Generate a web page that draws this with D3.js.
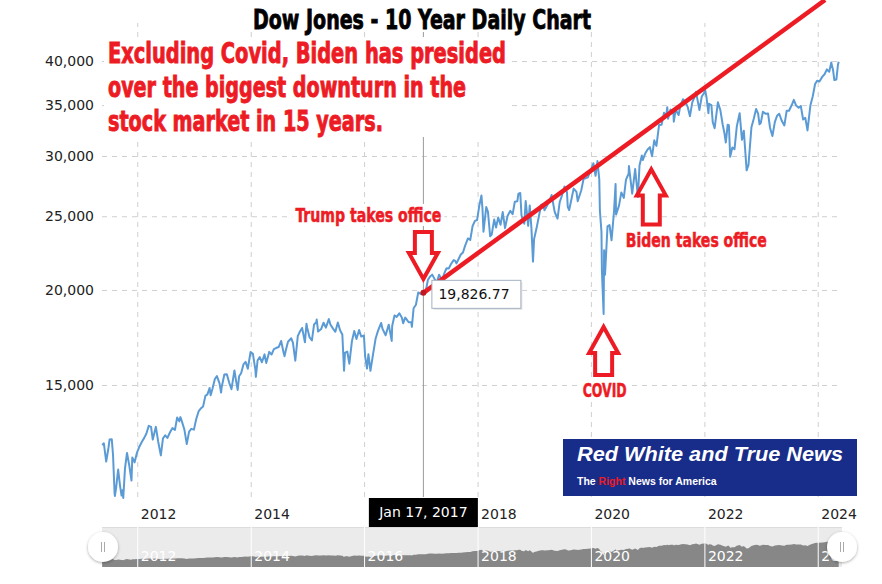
<!DOCTYPE html>
<html>
<head>
<meta charset="utf-8">
<script src="https://cdn.jsdelivr.net/npm/d3@7"></script>
<style>
  body { margin: 0; background: #fff; }
  svg { display: block; font-family: "DejaVu Sans", Verdana, sans-serif; }
  .heavy { font-family: "Liberation Sans Narrow", "DejaVu Sans Condensed", "Roboto", sans-serif; font-weight: bold; }
</style>
</head>
<body>
<svg id="chart" width="882" height="584"></svg>
<script>
// Dow Jones closes (roughly two per month plus turning points)
const dowCloses = [
  ["2011-05-20", 12512], ["2011-05-31", 12570], ["2011-06-15", 11897], ["2011-06-30", 12414],
  ["2011-07-07", 12719], ["2011-07-21", 12724], ["2011-07-29", 12143], ["2011-08-08", 10810],
  ["2011-08-10", 10719], ["2011-08-18", 10990], ["2011-08-31", 11614], ["2011-09-12", 11061],
  ["2011-09-22", 10733], ["2011-09-30", 10913], ["2011-10-03", 10655], ["2011-10-14", 11644],
  ["2011-10-27", 12209], ["2011-11-10", 11778], ["2011-11-25", 11231], ["2011-11-30", 12046],
  ["2011-12-15", 11868], ["2011-12-30", 12218],
  ["2012-01-13", 12422], ["2012-01-31", 12633], ["2012-02-15", 12781], ["2012-02-29", 12952],
  ["2012-03-15", 13253], ["2012-03-30", 13212], ["2012-04-10", 12716], ["2012-04-30", 13214],
  ["2012-05-15", 12633], ["2012-06-01", 12119], ["2012-06-15", 12767], ["2012-06-29", 12880],
  ["2012-07-13", 12777], ["2012-07-31", 13009], ["2012-08-15", 13165], ["2012-08-31", 13091],
  ["2012-09-14", 13593], ["2012-09-28", 13437], ["2012-10-05", 13610], ["2012-10-15", 13424],
  ["2012-10-31", 13096], ["2012-11-15", 12543], ["2012-11-30", 13026], ["2012-12-14", 13135],
  ["2012-12-31", 13104],
  ["2013-01-15", 13534], ["2013-01-31", 13861], ["2013-02-15", 13981], ["2013-02-28", 14054],
  ["2013-03-15", 14514], ["2013-03-28", 14579], ["2013-04-11", 14865], ["2013-04-18", 14537],
  ["2013-04-30", 14840], ["2013-05-15", 15275], ["2013-05-28", 15409], ["2013-06-14", 15070],
  ["2013-06-24", 14660], ["2013-06-28", 14910], ["2013-07-15", 15484], ["2013-07-31", 15500],
  ["2013-08-15", 15112], ["2013-08-30", 14810], ["2013-09-18", 15676], ["2013-09-30", 15130],
  ["2013-10-09", 14776], ["2013-10-18", 15400], ["2013-10-31", 15546], ["2013-11-15", 15962],
  ["2013-11-29", 16086], ["2013-12-13", 15755], ["2013-12-31", 16577],
  ["2014-01-15", 16481], ["2014-01-31", 15699], ["2014-02-03", 15373], ["2014-02-14", 16154],
  ["2014-02-28", 16322], ["2014-03-14", 16066], ["2014-03-31", 16458], ["2014-04-11", 16027],
  ["2014-04-30", 16581], ["2014-05-15", 16447], ["2014-05-30", 16717], ["2014-06-13", 16776],
  ["2014-06-30", 16827], ["2014-07-16", 17138], ["2014-07-31", 16563], ["2014-08-07", 16368],
  ["2014-08-15", 16662], ["2014-08-29", 17098], ["2014-09-19", 17280], ["2014-09-30", 17043],
  ["2014-10-15", 16142], ["2014-10-31", 17391], ["2014-11-14", 17634], ["2014-11-28", 17828],
  ["2014-12-16", 17068], ["2014-12-26", 18053], ["2014-12-31", 17823],
  ["2015-01-15", 17320], ["2015-01-30", 17165], ["2015-02-13", 18019], ["2015-02-27", 18133],
  ["2015-03-02", 18288], ["2015-03-11", 17635], ["2015-03-31", 17776], ["2015-04-15", 18112],
  ["2015-04-30", 17841], ["2015-05-19", 18312], ["2015-05-29", 18011], ["2015-06-15", 17791],
  ["2015-06-30", 17620], ["2015-07-16", 18120], ["2015-07-31", 17690], ["2015-08-14", 17477],
  ["2015-08-25", 15666], ["2015-08-31", 16528], ["2015-09-15", 16599], ["2015-09-28", 16001],
  ["2015-10-15", 17141], ["2015-10-30", 17664], ["2015-11-13", 17245], ["2015-11-30", 17720],
  ["2015-12-14", 17368], ["2015-12-31", 17425],
  ["2016-01-08", 16346], ["2016-01-20", 15766], ["2016-01-29", 16466], ["2016-02-11", 15660],
  ["2016-02-29", 16517], ["2016-03-15", 17251], ["2016-03-31", 17685], ["2016-04-20", 18096],
  ["2016-04-29", 17774], ["2016-05-19", 17435], ["2016-05-31", 17787], ["2016-06-08", 18005],
  ["2016-06-27", 17140], ["2016-06-30", 17930], ["2016-07-15", 18516], ["2016-07-29", 18432],
  ["2016-08-15", 18636], ["2016-08-31", 18401], ["2016-09-09", 18085], ["2016-09-22", 18392],
  ["2016-09-30", 18308], ["2016-10-14", 18138], ["2016-10-31", 18142], ["2016-11-04", 17888],
  ["2016-11-15", 18923], ["2016-11-30", 19124], ["2016-12-15", 19852], ["2016-12-30", 19763],
  ["2017-01-17", 19826.77], ["2017-01-31", 19864], ["2017-02-15", 20611], ["2017-02-28", 20812],
  ["2017-03-15", 20950], ["2017-03-31", 20663], ["2017-04-13", 20453], ["2017-04-28", 20940],
  ["2017-05-17", 20606], ["2017-05-31", 21009], ["2017-06-15", 21359], ["2017-06-30", 21350],
  ["2017-07-14", 21637], ["2017-07-31", 21891], ["2017-08-10", 21844], ["2017-08-18", 21674],
  ["2017-08-31", 21948], ["2017-09-15", 22268], ["2017-09-29", 22405], ["2017-10-13", 22871],
  ["2017-10-31", 23377], ["2017-11-15", 23271], ["2017-11-30", 24272], ["2017-12-15", 24651],
  ["2017-12-29", 24719],
  ["2018-01-12", 25803], ["2018-01-26", 26616], ["2018-02-02", 25520], ["2018-02-08", 23860],
  ["2018-02-26", 25709], ["2018-03-09", 25335], ["2018-03-23", 23533], ["2018-04-02", 23644],
  ["2018-04-18", 24748], ["2018-04-30", 24163], ["2018-05-14", 24899], ["2018-05-29", 24361],
  ["2018-06-12", 25320], ["2018-06-27", 24117], ["2018-07-13", 25019], ["2018-07-31", 25415],
  ["2018-08-15", 25162], ["2018-08-29", 26124], ["2018-09-14", 26154], ["2018-09-21", 26743],
  ["2018-10-03", 26828], ["2018-10-11", 25052], ["2018-10-24", 24583], ["2018-10-29", 24442],
  ["2018-11-07", 26180], ["2018-11-23", 24286], ["2018-12-03", 25826], ["2018-12-14", 24100],
  ["2018-12-24", 21792], ["2018-12-31", 23327],
  ["2019-01-15", 24065], ["2019-01-31", 24999], ["2019-02-15", 25883], ["2019-02-28", 25916],
  ["2019-03-08", 25450], ["2019-03-29", 25928], ["2019-04-15", 26384], ["2019-04-23", 26656],
  ["2019-05-13", 25324], ["2019-05-31", 24815], ["2019-06-14", 26089], ["2019-06-28", 26600],
  ["2019-07-15", 27359], ["2019-07-31", 26864], ["2019-08-05", 25717], ["2019-08-14", 25479],
  ["2019-08-30", 26403], ["2019-09-12", 27182], ["2019-09-30", 26917], ["2019-10-08", 26164],
  ["2019-10-31", 27046], ["2019-11-15", 28004], ["2019-11-29", 28051], ["2019-12-13", 28135],
  ["2019-12-27", 28645],
  ["2020-01-17", 29348], ["2020-01-31", 28256], ["2020-02-12", 29551], ["2020-02-24", 27960],
  ["2020-02-28", 25409], ["2020-03-09", 23851], ["2020-03-12", 21200], ["2020-03-16", 20188],
  ["2020-03-23", 18592], ["2020-03-26", 22552], ["2020-04-01", 20943], ["2020-04-17", 24242],
  ["2020-04-30", 24345], ["2020-05-13", 23247], ["2020-05-29", 25383], ["2020-06-08", 27572],
  ["2020-06-11", 25128], ["2020-06-30", 25813], ["2020-07-15", 26870], ["2020-07-31", 26428],
  ["2020-08-14", 27931], ["2020-08-31", 28430], ["2020-09-02", 29100], ["2020-09-23", 26763],
  ["2020-10-12", 28837], ["2020-10-30", 26502], ["2020-11-09", 29158], ["2020-11-24", 30046],
  ["2020-11-30", 29638], ["2020-12-15", 30199], ["2020-12-31", 30606],
  ["2021-01-15", 30814], ["2021-01-29", 29983], ["2021-02-12", 31458], ["2021-02-26", 30932],
  ["2021-03-15", 32953], ["2021-03-31", 32982], ["2021-04-16", 34200], ["2021-04-30", 33875],
  ["2021-05-07", 34778], ["2021-05-12", 33587], ["2021-05-28", 34529], ["2021-06-15", 34299],
  ["2021-06-18", 33290], ["2021-06-30", 34503], ["2021-07-19", 33962], ["2021-07-30", 34935],
  ["2021-08-16", 35625], ["2021-08-31", 35361], ["2021-09-15", 34814], ["2021-09-30", 33844],
  ["2021-10-15", 35295], ["2021-10-29", 35820], ["2021-11-08", 36432], ["2021-11-30", 34484],
  ["2021-12-15", 35927], ["2021-12-31", 36338],
  ["2022-01-04", 36799], ["2022-01-14", 35912], ["2022-01-27", 34160], ["2022-01-31", 35132],
  ["2022-02-15", 34989], ["2022-02-24", 33223], ["2022-03-08", 32632], ["2022-03-29", 35294],
  ["2022-04-14", 34451], ["2022-04-29", 32977], ["2022-05-09", 32245], ["2022-05-19", 31253],
  ["2022-05-31", 32990], ["2022-06-08", 32910], ["2022-06-16", 29927], ["2022-06-30", 30775],
  ["2022-07-14", 30630], ["2022-07-29", 32845], ["2022-08-16", 34152], ["2022-08-31", 31510],
  ["2022-09-12", 32381], ["2022-09-30", 28725], ["2022-10-12", 29210], ["2022-10-31", 32732],
  ["2022-11-15", 33592], ["2022-11-30", 34589], ["2022-12-13", 34108], ["2022-12-22", 33027],
  ["2022-12-30", 33147],
  ["2023-01-13", 34302], ["2023-01-31", 34086], ["2023-02-15", 34128], ["2023-02-28", 32656],
  ["2023-03-15", 31874], ["2023-03-31", 33274], ["2023-04-14", 33886], ["2023-04-28", 34098],
  ["2023-05-15", 33348], ["2023-05-31", 32908], ["2023-06-15", 34408], ["2023-06-30", 34407],
  ["2023-07-19", 35061], ["2023-07-31", 35560], ["2023-08-15", 34946], ["2023-08-31", 34721],
  ["2023-09-14", 34907], ["2023-09-29", 33507], ["2023-10-13", 33670], ["2023-10-27", 32417],
  ["2023-11-15", 34991], ["2023-11-30", 35950], ["2023-12-15", 37305], ["2023-12-29", 37689],
  ["2024-01-12", 37592], ["2024-01-31", 38150], ["2024-02-14", 38424], ["2024-02-29", 38996],
  ["2024-03-15", 38714], ["2024-03-28", 39807], ["2024-04-09", 38883], ["2024-04-17", 37753],
  ["2024-04-30", 37816], ["2024-05-10", 39512], ["2024-05-15", 39908]
];

const yTickValues = [15000, 20000, 25000, 30000, 35000, 40000];
const xTickYears = [2012, 2014, 2016, 2018, 2020, 2022, 2024];
const focusPoint = ["2017-01-17", 19826.77];
const trendPoints = [["2017-01-17", 19826.77], ["2024-02-17", 48115]];

const chartTitle = "Dow Jones - 10 Year Daily Chart";
const headlineLines = [
  "Excluding Covid, Biden has presided",
  "over the biggest downturn in the",
  "stock market in 15 years."
];
const callouts = [
  { text: "Trump takes office", date: "2017-01-17", value: 20680, dir: -1 },
  { text: "COVID", date: "2020-03-23", value: 17880, dir: 1 },
  { text: "Biden takes office", date: "2021-01-24", value: 28810, dir: 1 }
];
const logoTitle = "Red White and True News";
const logoTagline = ["The ", "Right", " News for America"];

// layout
const width = 882;
const height = 584;
const plot = { left: 102, right: 839, top: 23, bottom: 497 };
const nav = { top: 527, bottom: 567, left: 102, right: 842 };
const red = '#ed1c24';

const parse = d3.timeParse('%Y-%m-%d');
const data = dowCloses.map(([d, v]) => ({ date: parse(d), value: v }));

const svg = d3.select('#chart');

const x = d3
  .scaleTime()
  .domain([parse('2011-05-19'), parse('2024-05-17')])
  .range([plot.left, plot.right]);

const y = d3
  .scaleLog()
  .domain([10686, 44876])
  .range([plot.bottom, plot.top]);

const yearDates = xTickYears.map(yr => new Date(yr, 0, 1));

const fx = x(parse(focusPoint[0]));
const fy = y(focusPoint[1]);
const dateBoxWidth = 109;

// y grid + labels
svg
  .append('g')
  .attr('transform', `translate(${plot.left}, 0)`)
  .call(
    d3
      .axisLeft(y)
      .tickValues(yTickValues)
      .tickFormat(d3.format(','))
      .tickSize(-(plot.right - plot.left))
      .tickPadding(8)
  )
  .call(g => g.select('.domain').remove())
  .call(g =>
    g
      .selectAll('.tick line')
      .attr('stroke', '#cfcfcf')
      .attr('stroke-dasharray', '5,5')
  )
  .call(g =>
    g
      .selectAll('.tick text')
      .attr('fill', '#222')
      .style('font-size', '14px')
      .style('font-family', '"DejaVu Sans", Verdana, sans-serif')
  );

// x grid + labels (a label sitting under the cursor date box is hidden by it)
const boxLeft = fx - dateBoxWidth / 2;
const boxRight = fx + dateBoxWidth / 2;
svg
  .append('g')
  .attr('transform', `translate(0, ${plot.bottom})`)
  .call(
    d3
      .axisBottom(x)
      .tickValues(yearDates)
      .tickFormat(d3.timeFormat('%Y'))
      .tickSize(-(plot.bottom - plot.top))
  )
  .call(g => g.select('.domain').remove())
  .call(g =>
    g
      .selectAll('.tick line')
      .attr('stroke', '#cfcfcf')
      .attr('stroke-dasharray', '5,5')
  )
  .call(g =>
    g
      .selectAll('.tick text')
      .attr('fill', '#222')
      .attr('text-anchor', 'start')
      .attr('x', 3)
      .attr('y', 22)
      .attr('dy', 0)
      .style('font-size', '14px')
      .style('font-family', '"DejaVu Sans", Verdana, sans-serif')
      .filter(d => x(d) + 38 > boxLeft && x(d) + 3 < boxRight)
      .remove()
  );

// cursor line at the focus date
svg
  .append('line')
  .attr('x1', fx)
  .attr('x2', fx)
  .attr('y1', plot.top)
  .attr('y2', plot.bottom)
  .attr('stroke', '#999')
  .attr('stroke-width', 1);

// the series
const line = d3
  .line()
  .x(d => x(d.date))
  .y(d => y(d.value));

svg
  .append('path')
  .datum(data)
  .attr('fill', 'none')
  .attr('stroke', '#5b9bd5')
  .attr('stroke-width', 2)
  .attr('stroke-linejoin', 'round')
  .attr('d', line);

// trend line
svg
  .append('path')
  .datum(trendPoints.map(([d, v]) => ({ date: parse(d), value: v })))
  .attr('fill', 'none')
  .attr('stroke', red)
  .attr('stroke-width', 4.5)
  .attr('d', line);

svg
  .append('circle')
  .attr('cx', fx)
  .attr('cy', fy)
  .attr('r', 3)
  .attr('fill', '#c01820');

// tooltip
const tip = svg.append('g').attr('transform', `translate(${fx + 8}, ${fy - 13})`);
tip
  .append('rect')
  .attr('x', 2)
  .attr('y', 2)
  .attr('width', 89)
  .attr('height', 28)
  .attr('fill', '#e4e4e4');
tip
  .append('rect')
  .attr('x', 0.5)
  .attr('y', 0.5)
  .attr('width', 89)
  .attr('height', 28)
  .attr('fill', '#fff')
  .attr('stroke', '#a3b1c2');
tip
  .append('text')
  .attr('x', 7)
  .attr('y', 19)
  .attr('fill', '#111')
  .style('font-size', '14px')
  .text(d3.format(',.2f')(focusPoint[1]));

// date box under the cursor
svg
  .append('rect')
  .attr('x', boxLeft)
  .attr('y', plot.bottom + 1)
  .attr('width', dateBoxWidth)
  .attr('height', 29)
  .attr('fill', '#000');
svg
  .append('text')
  .attr('x', fx)
  .attr('y', plot.bottom + 20)
  .attr('text-anchor', 'middle')
  .attr('fill', '#fff')
  .style('font-size', '14px')
  .text(d3.timeFormat('%b %d, %Y')(parse(focusPoint[0])));

// navigator
const navY = d3.scaleLinear().domain([0, 62000]).range([nav.bottom, nav.top]);
svg
  .append('clipPath')
  .attr('id', 'nav-clip')
  .append('rect')
  .attr('x', nav.left)
  .attr('y', nav.top)
  .attr('width', nav.right - nav.left)
  .attr('height', nav.bottom - nav.top);

const navG = svg.append('g').attr('clip-path', 'url(#nav-clip)');
navG
  .append('rect')
  .attr('x', nav.left)
  .attr('y', nav.top)
  .attr('width', nav.right - nav.left)
  .attr('height', nav.bottom - nav.top)
  .attr('fill', '#ebebeb');
navG
  .append('line')
  .attr('x1', nav.left)
  .attr('x2', nav.right)
  .attr('y1', nav.top + 0.5)
  .attr('y2', nav.top + 0.5)
  .attr('stroke', '#dcdcdc');
navG
  .append('path')
  .datum(data)
  .attr('fill', '#878787')
  .attr(
    'd',
    d3
      .area()
      .x(d => x(d.date))
      .y0(nav.bottom)
      .y1(d => navY(d.value))
  );
navG
  .append('g')
  .attr('transform', `translate(0, ${nav.bottom})`)
  .call(
    d3
      .axisBottom(x)
      .tickValues(yearDates)
      .tickFormat(d3.timeFormat('%Y'))
      .tickSize(-(nav.bottom - nav.top))
  )
  .call(g => g.select('.domain').remove())
  .call(g => g.selectAll('.tick line').attr('stroke', '#fff'))
  .call(g =>
    g
      .selectAll('.tick text')
      .attr('fill', '#fff')
      .attr('text-anchor', 'start')
      .attr('x', 3)
      .attr('y', -6)
      .attr('dy', 0)
      .style('font-size', '14px')
      .style('font-family', '"DejaVu Sans", Verdana, sans-serif')
  );

// navigator handles
const defs = svg.append('defs');
defs
  .append('filter')
  .attr('id', 'handle-shadow')
  .attr('x', '-50%')
  .attr('y', '-50%')
  .attr('width', '200%')
  .attr('height', '200%')
  .append('feDropShadow')
  .attr('dx', 0)
  .attr('dy', 1)
  .attr('stdDeviation', 1.5)
  .attr('flood-color', '#000')
  .attr('flood-opacity', 0.35);

[nav.left + 1, nav.right].forEach(hx => {
  const h = svg.append('g').attr('transform', `translate(${hx}, ${(nav.top + nav.bottom) / 2})`);
  h.append('circle').attr('r', 15).attr('fill', '#fff').attr('filter', 'url(#handle-shadow)');
  [-1.5, 1.5].forEach(dx =>
    h
      .append('line')
      .attr('x1', dx)
      .attr('x2', dx)
      .attr('y1', -5)
      .attr('y2', 5)
      .attr('stroke', '#aaa')
      .attr('stroke-width', 1)
  );
});

// title
svg
  .append('rect')
  .attr('x', 250)
  .attr('y', 0)
  .attr('width', 350)
  .attr('height', 32)
  .attr('fill', '#fff');
svg
  .append('text')
  .attr('class', 'heavy')
  .attr('x', 422)
  .attr('y', 29)
  .attr('text-anchor', 'middle')
  .attr('fill', '#000')
  .attr('stroke', '#000')
  .attr('stroke-width', 0.8)
  .attr('textLength', 338)
  .attr('lengthAdjust', 'spacingAndGlyphs')
  .style('font-size', '27px')
  .text(chartTitle);

// headline block
svg
  .append('rect')
  .attr('x', 104)
  .attr('y', 37)
  .attr('width', 408)
  .attr('height', 100)
  .attr('fill', '#fff');
const headlineWidths = [398, 358, 275];
svg
  .append('g')
  .selectAll('text')
  .data(headlineLines)
  .join('text')
  .attr('class', 'heavy')
  .attr('x', 108)
  .attr('y', (d, i) => 63 + i * 34)
  .attr('fill', red)
  .attr('stroke', red)
  .attr('stroke-width', 0.9)
  .attr('textLength', (d, i) => headlineWidths[i])
  .attr('lengthAdjust', 'spacingAndGlyphs')
  .style('font-size', '28px')
  .text(d => d);

// callouts: arrow + label
const calloutLayout = {
  'Trump takes office': { dx: -55, dy: -57, anchor: 'middle', len: 47, width: 146 },
  COVID: { dx: 1, dy: 70, anchor: 'middle', len: 48, width: 44 },
  'Biden takes office': { dx: 45, dy: 78, anchor: 'middle', len: 55, width: 141 }
};

const arrowPath = (dir, len) => {
  const hl = 26;
  const hw = 14.5;
  const sw = 8.5;
  return [
    [0, 0],
    [hw, dir * hl],
    [sw, dir * hl],
    [sw, dir * len],
    [-sw, dir * len],
    [-sw, dir * hl],
    [-hw, dir * hl]
  ];
};

callouts.forEach(c => {
  const lay = calloutLayout[c.text];
  const tx = x(parse(c.date));
  const ty = y(c.value);
  svg
    .append('path')
    .attr('d', d3.line()(arrowPath(c.dir, lay.len)) + 'Z')
    .attr('transform', `translate(${tx}, ${ty})`)
    .attr('fill', '#fff')
    .attr('stroke', red)
    .attr('stroke-width', 4)
    .attr('stroke-linejoin', 'miter');

  const lx = tx + lay.dx;
  const ly = ty + lay.dy;
  svg
    .append('rect')
    .attr('x', lx - lay.width / 2 - 3)
    .attr('y', ly - 18)
    .attr('width', lay.width + 6)
    .attr('height', 22)
    .attr('fill', '#fff');
  svg
    .append('text')
    .attr('class', 'heavy')
    .attr('x', lx)
    .attr('y', ly)
    .attr('text-anchor', lay.anchor)
    .attr('fill', red)
    .attr('stroke', red)
    .attr('stroke-width', 0.5)
    .attr('textLength', lay.width)
    .attr('lengthAdjust', 'spacingAndGlyphs')
    .style('font-size', '19px')
    .text(c.text);
});

// logo badge
const logo = svg.append('g').attr('transform', 'translate(563, 439)');
logo
  .append('rect')
  .attr('width', 294)
  .attr('height', 57)
  .attr('fill', '#182c8a');
logo
  .append('text')
  .attr('x', 14)
  .attr('y', 22)
  .attr('fill', '#fff')
  .attr('textLength', 266)
  .attr('lengthAdjust', 'spacingAndGlyphs')
  .style('font-family', '"Liberation Sans", Arial, sans-serif')
  .style('font-weight', 'bold')
  .style('font-style', 'italic')
  .style('font-size', '20px')
  .text(logoTitle);
logo
  .append('text')
  .attr('x', 14)
  .attr('y', 46)
  .attr('fill', '#fff')
  .style('font-family', '"Liberation Sans", Arial, sans-serif')
  .style('font-weight', 'bold')
  .style('font-size', '10.5px')
  .selectAll('tspan')
  .data(logoTagline)
  .join('tspan')
  .attr('fill', (d, i) => (i === 1 ? red : '#fff'))
  .attr('xml:space', 'preserve')
  .text(d => d);
</script>
</body>
</html>
